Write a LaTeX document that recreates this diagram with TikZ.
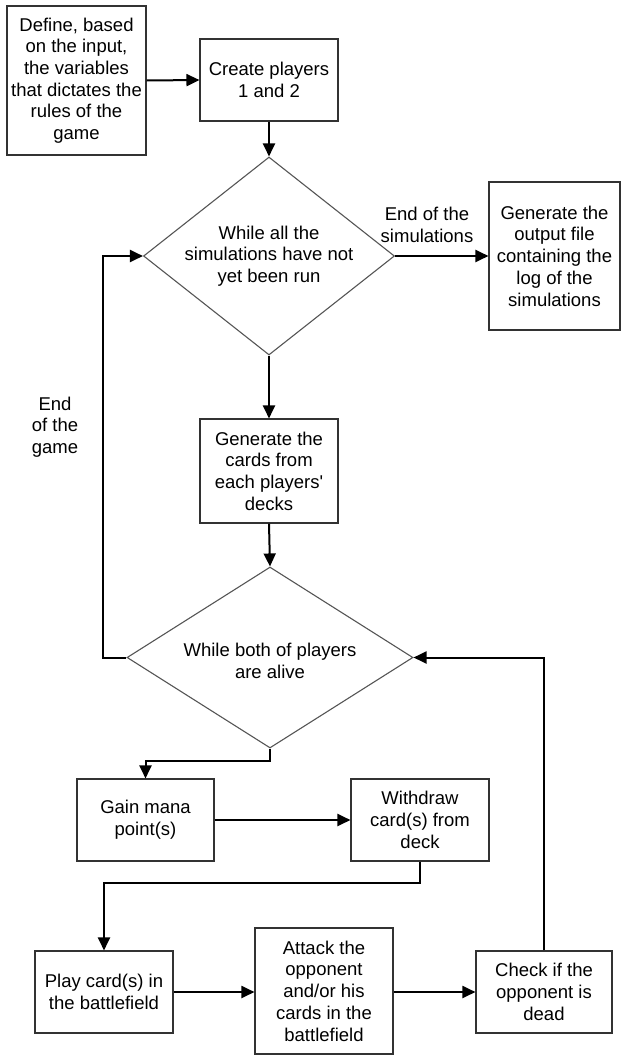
\documentclass[tikz,border=0pt]{standalone}
\usepackage{fontspec}
\setmainfont{Liberation Sans}[Ligatures=TeXOff]
\usetikzlibrary{arrows.meta,shapes.geometric}
\definecolor{boxc}{RGB}{50,50,50}
\definecolor{diac}{RGB}{85,85,85}
\newcommand{\fs}{\fontsize{18.5}{21.7}\selectfont}
\begin{document}
\begin{tikzpicture}[x=1pt,y=-1pt,
  box/.style={draw=boxc, line width=1.1pt, fill=white, align=center, inner sep=0pt, font=\fs},
  dia/.style={diamond, draw=diac, line width=1.1pt, inner sep=0pt},
  txt/.style={align=center, font=\fs, inner sep=0pt},
  conn/.style={line width=2pt, -{Triangle[length=13pt,width=12pt]}},
  seg/.style={line width=2pt}]
\useasboundingbox (0,0) rectangle (621,1055);
% boxes
\node[box, minimum width=139pt, minimum height=149pt] (b1) at (76.5,80.5)
  {Define, based\\on the input,\\the variables\\that dictates the\\rules of the\\game};
\node[box, minimum width=138pt, minimum height=82pt] (b2) at (269,80)
  {Create players\\1 and 2};
\node[dia, minimum width=251pt, minimum height=198pt] (d1) at (269,256) {};
\node[txt] (d1t) at (269,256) {While all the\\simulations have not\\yet been run};
\node[box, minimum width=131pt, minimum height=148pt] (out) at (554.5,256)
  {Generate the\\output file\\containing the\\log of the\\simulations};
\node[box, minimum width=138pt, minimum height=104pt] (b3) at (269,471)
  {Generate the\\cards from\\each players'\\decks};
\node[dia, minimum width=286pt, minimum height=181pt] (d2) at (270,657.5) {};
\node[txt] (d2t) at (270,661) {While both of players\\are alive};
\node[box, minimum width=137pt, minimum height=82pt] (gain) at (145.5,820)
  {Gain mana\\point(s)};
\node[box, minimum width=138pt, minimum height=82pt] (wd) at (420,820)
  {Withdraw\\card(s) from\\deck};
\node[box, minimum width=138pt, minimum height=82pt] (play) at (104,992)
  {Play card(s) in\\the battlefield};
\node[box, minimum width=138pt, minimum height=126pt] (att) at (324,991)
  {Attack the\\opponent\\and/or his\\cards in the\\battlefield};
\node[box, minimum width=136pt, minimum height=82pt] (chk) at (544,992)
  {Check if the\\opponent is\\dead};
% labels
\node[txt] (l1) at (427,225) {End of the\\simulations};
\node[txt] (l2) at (55,427) {End\\of the\\game};
% connectors
\draw[conn] (b1.east) -- (b2.west);
\draw[conn] (b2.south) -- (d1.north);
\draw[conn] (d1.east) -- (out.west);
\draw[conn] (d1.south) -- (b3.north);
\draw[conn] (b3.south) -- (d2.north);
\draw[conn] (d2.west) -- (103,657.5) |- (d1.west);
\draw[conn] (d2.south) -- ++(0,12) -| (gain.north);
\draw[conn] (gain.east) -- (wd.west);
\draw[conn] (wd.south) -- ++(0,21) -| (play.north);
\draw[conn] (play.east) -- (att.west |- play.east);
\draw[conn] (att.east |- chk.west) -- (chk.west);
\draw[conn] (chk.north) |- (d2.east);
\end{tikzpicture}
\end{document}
